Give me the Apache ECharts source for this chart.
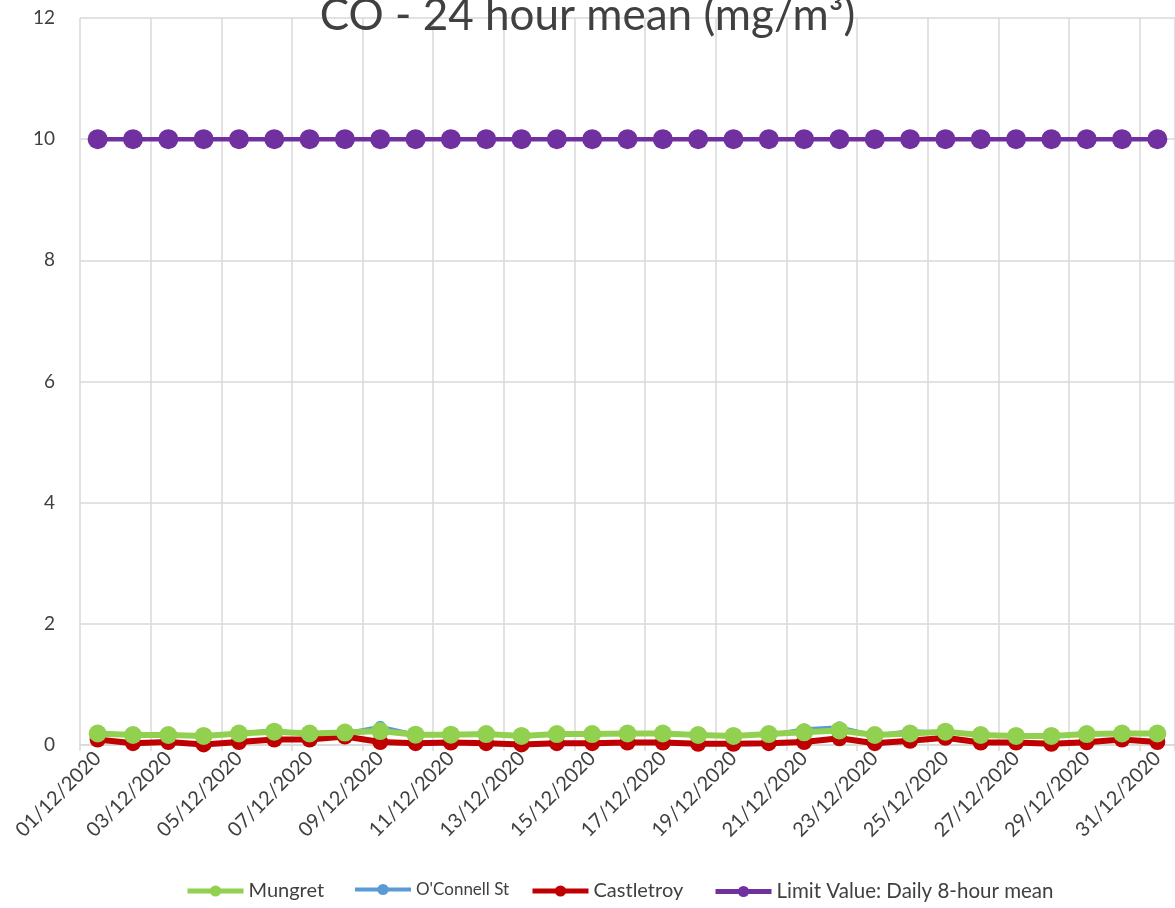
<!DOCTYPE html>
<html><head><meta charset="utf-8">
<script src="https://cdn.jsdelivr.net/npm/echarts@6/dist/echarts.min.js"></script>
<style>html,body{margin:0;padding:0;background:#fff}#c{width:1175px;height:908px}</style>
</head><body><div id="c"></div>
<script>
const categories = ['01/12/2020','02/12/2020','03/12/2020','04/12/2020','05/12/2020','06/12/2020','07/12/2020','08/12/2020','09/12/2020','10/12/2020','11/12/2020','12/12/2020','13/12/2020','14/12/2020','15/12/2020','16/12/2020','17/12/2020','18/12/2020','19/12/2020','20/12/2020','21/12/2020','22/12/2020','23/12/2020','24/12/2020','25/12/2020','26/12/2020','27/12/2020','28/12/2020','29/12/2020','30/12/2020','31/12/2020'];
const mungret = [0.19,0.165,0.165,0.15,0.19,0.22,0.19,0.205,0.23,0.17,0.17,0.18,0.15,0.18,0.18,0.19,0.19,0.165,0.15,0.18,0.21,0.24,0.165,0.19,0.22,0.165,0.15,0.15,0.18,0.19,0.19];
const oconnell = [0.18,0.16,0.19,0.14,0.2,0.25,0.18,0.2,0.31,0.18,0.16,0.17,0.14,0.17,0.17,0.18,0.18,0.16,0.14,0.17,0.27,0.3,0.16,0.24,0.21,0.16,0.14,0.14,0.17,0.18,0.18];
const castletroy = [0.09,0.03,0.05,0.01,0.05,0.09,0.09,0.14,0.05,0.03,0.04,0.03,0.01,0.03,0.03,0.04,0.04,0.02,0.02,0.03,0.05,0.11,0.03,0.07,0.12,0.04,0.04,0.02,0.045,0.09,0.05];
const limitValue = [10,10,10,10,10,10,10,10,10,10,10,10,10,10,10,10,10,10,10,10,10,10,10,10,10,10,10,10,10,10,10];
const yTicks = {min:0, max:12, interval:2};

const FONT = 'Lato, "Open Sans", sans-serif';
const chart = echarts.init(document.getElementById('c'));
function leg(name, left, size, lw){
  return {data:[name], left:left, top:881, padding:0, itemWidth:56, itemHeight:14, itemGap:0,
    lineStyle:{width:lw},
    textStyle:{fontFamily:FONT, fontSize:size, color:'#404040'}};
}
chart.setOption({
  animation:false,
  textStyle:{fontFamily:FONT},
  title:{text:'CO - 24 hour mean (mg/m³)', left:'center', top:-11,
    textStyle:{fontFamily:FONT, fontSize:44, fontWeight:'normal', color:'#404040'}},
  legend:[leg('Mungret',185,20,5), leg("O'Connell St",353,17,4), leg('Castletroy',530,20,5), leg('Limit Value: Daily 8-hour mean',713,20.5,5)],
  grid:{left:80, right:-1, top:18, bottom:163, containLabel:false},
  xAxis:{type:'category', data:categories, boundaryGap:true,
    axisLine:{lineStyle:{color:'#D9D9D9', width:1.5}},
    axisTick:{show:true, interval:1, length:6, lineStyle:{color:'#D9D9D9', width:1.5}},
    splitLine:{show:true, interval:1, lineStyle:{color:'#D9D9D9', width:1.5}},
    axisLabel:{interval:1, rotate:45, fontSize:20, color:'#404040', margin:10, fontFamily:FONT}},
  yAxis:{type:'value', min:yTicks.min, max:yTicks.max, interval:yTicks.interval,
    axisLine:{show:false}, axisTick:{show:false},
    splitLine:{lineStyle:{color:'#D9D9D9', width:1.5}},
    axisLabel:{fontSize:19, color:'#404040', margin:25, fontFamily:FONT}},
  series:[
    {name:'Castletroy', type:'line', data:castletroy, z:2, symbol:'circle', symbolSize:16,
      lineStyle:{color:'#C00000', width:6}, itemStyle:{color:'#C00000'}},
    {name:"O'Connell St", type:'line', data:oconnell, z:3, symbol:'circle', symbolSize:11,
      lineStyle:{color:'#5B9BD5', width:3}, itemStyle:{color:'#5B9BD5'}},
    {name:'Mungret', type:'line', data:mungret, z:4, symbol:'circle', symbolSize:18,
      lineStyle:{color:'#92D050', width:6}, itemStyle:{color:'#92D050'}},
    {name:'Limit Value: Daily 8-hour mean', type:'line', data:limitValue, z:5, symbol:'circle', symbolSize:20,
      lineStyle:{color:'#7030A0', width:4.5}, itemStyle:{color:'#7030A0'}}
  ]
});
</script></body></html>
